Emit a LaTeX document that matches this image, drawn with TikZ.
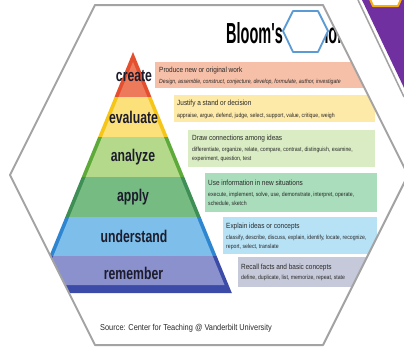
\documentclass[tikz,border=0pt]{standalone}
\usepackage{fontspec}
\setmainfont{Liberation Sans}
\newfontfamily\narrowfont[FakeStretch=0.86]{Liberation Sans}
\newfontfamily\labelfont[FakeStretch=0.72]{Liberation Sans}
\newfontfamily\titlefont[FakeStretch=0.5]{Liberation Sans}

\definecolor{hexgrey}{HTML}{A3A3A3}
\definecolor{purp}{HTML}{7030A0}
\definecolor{hexyel}{HTML}{F5B00F}
\definecolor{hexblue}{HTML}{5B9BD5}
\definecolor{labtxt}{HTML}{1C1C2C}
\definecolor{txt}{HTML}{2A2A2A}
\definecolor{crD}{HTML}{E4502F}\definecolor{crL}{HTML}{EE7A5C}
\definecolor{evD}{HTML}{F5C518}\definecolor{evL}{HTML}{FCE17A}
\definecolor{anD}{HTML}{5DAA3A}\definecolor{anL}{HTML}{B5D98B}
\definecolor{apD}{HTML}{3E8F55}\definecolor{apL}{HTML}{76BB82}
\definecolor{unD}{HTML}{2E86D1}\definecolor{unL}{HTML}{7DBEEA}
\definecolor{reD}{HTML}{3C4BA8}\definecolor{reL}{HTML}{8A91CC}
\definecolor{bx1}{HTML}{F6BFA7}
\definecolor{bx2}{HTML}{FDE9A8}
\definecolor{bx3}{HTML}{D9ECC3}
\definecolor{bx4}{HTML}{A9DDBB}
\definecolor{bx5}{HTML}{B7E2F6}
\definecolor{bx6}{HTML}{C6C9D9}

\begin{document}
\begin{tikzpicture}
  [x=1pt,y=-1pt,
   lab/.style={inner sep=0pt,text=labtxt,font=\labelfont\bfseries\fontsize{17}{17}\selectfont},
   head/.style={anchor=west,inner sep=0pt,text=txt,font=\narrowfont\fontsize{7.5}{8}\selectfont},
   verbs/.style={anchor=west,inner sep=0pt,align=left,text=txt,font=\narrowfont\fontsize{6}{9}\selectfont},
   outline/.style={draw=hexgrey,line width=2pt,line join=round}]
  \useasboundingbox (0,0) rectangle (404,348);
  \fill[white] (0,0) rectangle (404,348);

  % neighbour hexagons, top right
  \fill[purp] (362,0) -- (406,92) -- (406,0) -- cycle;
  \draw[hexgrey,line width=1.5pt] (358,0) -- (404,97);
  \filldraw[fill=white,draw=hexyel,line width=2pt,line join=round] (369,-3) -- (373,6) -- (398,6) -- (402,-3);

  \begin{scope}
  \clip (95,5) -- (323,5) -- (408,175) -- (323,345) -- (95,345) -- (10,175) -- cycle;
  \node[anchor=base west,inner sep=0pt,font=\titlefont\bfseries\fontsize{29}{29}\selectfont] (title) at (226,43) {Bloom's Taxonomy};

  % pyramid
  \fill[crD] (133,52) -- (151.45,97) -- (114.55,97) -- cycle;
  \fill[crL] (133,62) -- (147.45,97) -- (118.55,97) -- cycle;
  \fill[evD] (114.55,97) -- (151.45,97) -- (167.85,137) -- (98.15,137) -- cycle;
  \fill[evL] (118.55,97) -- (147.45,97) -- (163.85,137) -- (102.15,137) -- cycle;
  \fill[anD] (98.15,137) -- (167.85,137) -- (184.25,177) -- (81.75,177) -- cycle;
  \fill[anL] (102.15,137) -- (163.85,137) -- (180.25,177) -- (85.75,177) -- cycle;
  \fill[apD] (81.75,177) -- (184.25,177) -- (200.65,217) -- (65.35,217) -- cycle;
  \fill[apL] (85.75,177) -- (180.25,177) -- (196.65,217) -- (69.35,217) -- cycle;
  \fill[unD] (65.35,217) -- (200.65,217) -- (216.64,256) -- (49.36,256) -- cycle;
  \fill[unL] (69.35,217) -- (196.65,217) -- (212.64,256) -- (53.36,256) -- cycle;
  \fill[reD] (49.36,256) -- (216.64,256) -- (231.81,293) -- (34.19,293) -- cycle;
  \fill[reL] (53.36,256) -- (212.64,256) -- (224.53,285) -- (41.47,285) -- cycle;

  \node[lab] (create) at (134,76) {create};
  \node[lab] (evaluate) at (133.5,117) {evaluate};
  \node[lab] (analyze) at (133,157) {analyze};
  \node[lab] (apply) at (133,197) {apply};
  \node[lab] (understand) at (134,236) {understand};
  \node[lab] (remember) at (133.5,273) {remember};

  % boxes
  \fill[bx1] (155,62) rectangle (375,88);
  \fill[bx2] (174,95) rectangle (375,122);
  \fill[bx3] (188,130) rectangle (375,167);
  \fill[bx4] (205,173) rectangle (377,212);
  \fill[bx5] (223,217) rectangle (377,254);
  \fill[bx6] (238,257) rectangle (377,287);

  \node[head] (h1) at (159,70.5) {Produce new or original work};
  \node[verbs] (v1) at (159,82) {\itshape Design, assemble, construct, conjecture, develop, formulate, author, investigate};
  \node[head] (h2) at (177,104) {Justify a stand or decision};
  \node[verbs] (v2) at (177,115.5) {appraise, argue, defend, judge, select, support, value, critique, weigh};
  \node[head] (h3) at (192,138.5) {Draw connections among ideas};
  \node[verbs] (v3) at (192,154.5) {differentiate, organize, relate, compare, contrast, distinguish, examine,\\experiment, question, test};
  \node[head] (h4) at (208,183) {Use information in new situations};
  \node[verbs] (v4) at (208,199) {execute, implement, solve, use, demonstrate, interpret, operate,\\schedule, sketch};
  \node[head] (h5) at (226,227) {Explain ideas or concepts};
  \node[verbs] (v5) at (226,242.5) {classify, describe, discuss, explain, identify, locate, recognize,\\report, select, translate};
  \node[head] (h6) at (241,267.5) {Recall facts and basic concepts};
  \node[verbs] (v6) at (241,278) {define, duplicate, list, memorize, repeat, state};

  \node[anchor=west,inner sep=0pt,text=txt,font=\narrowfont\fontsize{8.6}{9}\selectfont] (src) at (100,328.5) {Source: Center for Teaching @ Vanderbilt University};
  \end{scope}

  \draw[outline] (95,5) -- (323,5) -- (408,175) -- (323,345) -- (95,345) -- (10,175) -- cycle;

  % small blue hexagon over the title
  \filldraw[fill=white,draw=hexblue,line width=1.8pt,line join=round]
    (283,31) -- (293,11) -- (318,11) -- (328,31) -- (318,52) -- (293,52) -- cycle;
\end{tikzpicture}
\end{document}
